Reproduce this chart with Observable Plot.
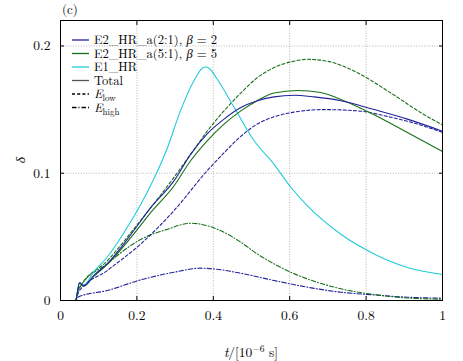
<!DOCTYPE html>
<html>
<head>
<meta charset="utf-8">
<script src="https://cdn.jsdelivr.net/npm/d3@7"></script>
<script src="https://cdn.jsdelivr.net/npm/@observablehq/plot@0.6"></script>
<style>
  html, body { margin: 0; padding: 0; background: #fff; }
  #chart { width: 463px; height: 361px; }
</style>
</head>
<body>
<div id="chart"></div>
<script>
// ---- data ----
const xTicks = [0, 0.2, 0.4, 0.6, 0.8, 1];
const yTicks = [0, 0.1, 0.2];

// E1_HR total
const tE1 = [0, 0.039, 0.05, 0.061, 0.087, 0.122, 0.175, 0.227, 0.28, 0.314, 0.349, 0.371, 0.38, 0.389, 0.41, 0.454, 0.507, 0.559, 0.603, 0.646, 0.734, 0.821, 0.908, 1];
const dE1 = [0, 0, 0.014, 0.012, 0.0225, 0.034, 0.0575, 0.085, 0.12, 0.149, 0.1725, 0.1825, 0.1835, 0.1825, 0.174, 0.152, 0.1255, 0.107, 0.089, 0.0745, 0.052, 0.0366, 0.026, 0.0204];

// E2_HR_a(2:1) total
const tE2aTot = [0, 0.039, 0.05, 0.061, 0.087, 0.122, 0.192, 0.236, 0.297, 0.341, 0.384, 0.428, 0.472, 0.515, 0.559, 0.611, 0.664, 0.734, 0.821, 0.908, 1];
const dE2aTot = [0, 0, 0.014, 0.0115, 0.0196, 0.0288, 0.055, 0.073, 0.094, 0.115, 0.131, 0.1425, 0.1516, 0.157, 0.16, 0.1613, 0.16, 0.157, 0.150, 0.1425, 0.133];

// E2_HR_a(5:1) total
const tE2bTot = [0, 0.039, 0.05, 0.061, 0.087, 0.122, 0.192, 0.236, 0.297, 0.341, 0.384, 0.428, 0.472, 0.515, 0.559, 0.62, 0.681, 0.734, 0.821, 0.908, 1];
const dE2bTot = [0, 0, 0.014, 0.0112, 0.019, 0.0282, 0.0523, 0.069, 0.090, 0.11, 0.1255, 0.1386, 0.149, 0.157, 0.163, 0.165, 0.1634, 0.158, 0.146, 0.132, 0.117];

// E2_HR_a(2:1) E_low
const tE2aLow = [0, 0.039, 0.048, 0.122, 0.21, 0.297, 0.384, 0.428, 0.472, 0.515, 0.559, 0.611, 0.69, 0.777, 0.865, 0.952, 1];
const dE2aLow = [0, 0, 0.007, 0.0235, 0.0444, 0.0706, 0.102, 0.116, 0.129, 0.1386, 0.1443, 0.148, 0.150, 0.149, 0.144, 0.137, 0.132];

// E2_HR_a(5:1) E_low
const tE2bLow = [0, 0.039, 0.048, 0.122, 0.21, 0.297, 0.341, 0.384, 0.428, 0.472, 0.515, 0.559, 0.611, 0.646, 0.699, 0.777, 0.865, 0.952, 1];
const dE2bLow = [0, 0, 0.009, 0.031, 0.063, 0.0967, 0.115, 0.133, 0.149, 0.163, 0.175, 0.183, 0.188, 0.1895, 0.188, 0.179, 0.163, 0.146, 0.138];

// E2_HR_a(2:1) E_high
const tE2aHigh = [0, 0.039, 0.048, 0.122, 0.21, 0.297, 0.367, 0.402, 0.472, 0.559, 0.646, 0.734, 0.821, 0.908, 1];
const dE2aHigh = [0, 0, 0.003, 0.0078, 0.0162, 0.0222, 0.0254, 0.0248, 0.0214, 0.0157, 0.0105, 0.0065, 0.0044, 0.0026, 0.0018];

// E2_HR_a(5:1) E_high
const tE2bHigh = [0, 0.039, 0.048, 0.122, 0.21, 0.28, 0.341, 0.384, 0.428, 0.472, 0.515, 0.559, 0.603, 0.646, 0.734, 0.821, 0.908, 1];
const dE2bHigh = [0, 0, 0.009, 0.0288, 0.048, 0.056, 0.0607, 0.0588, 0.0536, 0.0458, 0.0366, 0.0288, 0.0222, 0.017, 0.0092, 0.0047, 0.002, 0.001];

const legendLabels = ["E2_HR_a(2:1), β = 2", "E2_HR_a(5:1), β = 5", "E1_HR", "Total", "E_low", "E_high"];

// ---- styles ----
const BLUE = "#22229a";
const GREEN = "#18701a";
const CYAN = "#22cbd8";
const GRAY = "#555555";
const DASH = "3,2.2";
const DASHDOT = "4.5,2,1,2";

function series(t, d, name) { return t.map((v, i) => ({t: v, d: d[i], name})); }

const lines = [
  {data: series(tE2aHigh, dE2aHigh, "aHigh"), stroke: BLUE, dash: DASHDOT},
  {data: series(tE2bHigh, dE2bHigh, "bHigh"), stroke: GREEN, dash: DASHDOT},
  {data: series(tE2aLow, dE2aLow, "aLow"), stroke: BLUE, dash: DASH},
  {data: series(tE2bLow, dE2bLow, "bLow"), stroke: GREEN, dash: DASH},
  {data: series(tE1, dE1, "E1"), stroke: CYAN, dash: null},
  {data: series(tE2bTot, dE2bTot, "bTot"), stroke: GREEN, dash: null},
  {data: series(tE2aTot, dE2aTot, "aTot"), stroke: BLUE, dash: null},
];

const FONT = "Latin Modern Roman, Liberation Serif, serif";
const FS = 13.5;
const LFS = 12.6;

const plot = Plot.plot({
  width: 463,
  height: 361,
  marginLeft: 60,
  marginRight: 21,
  marginTop: 20,
  marginBottom: 61,
  style: {fontFamily: FONT, fontSize: FS + "px", color: "black", background: "white", overflow: "visible"},
  x: {domain: [0, 1]},
  y: {domain: [0, 0.22]},
  marks: [
    Plot.gridX(xTicks, {stroke: "#999", strokeOpacity: 1, strokeDasharray: "1,1.6", strokeWidth: 0.7}),
    Plot.gridY(yTicks, {stroke: "#999", strokeOpacity: 1, strokeDasharray: "1,1.6", strokeWidth: 0.7}),
    ...lines.map(l => Plot.line(l.data, {x: "t", y: "d", stroke: l.stroke, strokeWidth: 1.1, strokeDasharray: l.dash, curve: "monotone-x"})),
    Plot.axisX(xTicks, {tickSize: 0, tickPadding: 10, tickFormat: d => String(d), label: null, fontSize: FS}),
    Plot.axisY(yTicks, {tickSize: 0, tickPadding: 10, tickFormat: d => String(d), label: null, fontSize: FS}),
    Plot.axisX(xTicks, {anchor: "bottom", tickSize: 4, dy: -4, tickFormat: () => "", label: null}),
    Plot.axisX(xTicks, {anchor: "top", tickSize: 4, dy: 4, tickFormat: () => "", label: null}),
    Plot.axisY(yTicks, {anchor: "left", tickSize: 4, dx: 4, tickFormat: () => "", label: null}),
    Plot.axisY(yTicks, {anchor: "right", tickSize: 4, dx: -4, tickFormat: () => "", label: null}),
    Plot.frame({stroke: "black", strokeWidth: 1})
  ]
});
document.getElementById("chart").appendChild(plot);

// ---- annotations: panel letter, axis labels, legend ----
const svg = d3.select(plot);
const xs = plot.scale("x"), ys = plot.scale("y");
const x0 = xs.range[0], x1 = xs.range[1];
const yTop = ys.range[1], yBot = ys.range[0];

svg.append("text").attr("x", 62).attr("y", 14).attr("text-anchor", "start")
  .attr("font-family", FONT).attr("font-size", 13).attr("fill", "black").text("(c)");

// x label
const xl = svg.append("text").attr("x", (x0 + x1) / 2).attr("y", 357).attr("text-anchor", "middle")
  .attr("font-family", FONT).attr("font-size", FS).attr("fill", "black");
xl.append("tspan").attr("font-style", "italic").text("t");
xl.append("tspan").text("/[10");
xl.append("tspan").attr("font-size", 9.5).attr("dy", -5).text("−6");
xl.append("tspan").attr("dy", 5).text(" s]");

// y label
svg.append("text").attr("transform", `translate(25,${(yTop + yBot) / 2}) rotate(-90)`)
  .attr("text-anchor", "middle").attr("font-family", FONT).attr("font-size", FS)
  .attr("font-style", "italic").attr("fill", "black").text("δ");

// legend
const legendItems = [
  {stroke: BLUE, dash: null},
  {stroke: GREEN, dash: null},
  {stroke: CYAN, dash: null},
  {stroke: GRAY, dash: null},
  {stroke: "black", dash: DASH},
  {stroke: "black", dash: DASHDOT},
];
const lg = svg.append("g").attr("font-family", FONT).attr("font-size", LFS).attr("fill", "black").attr("text-anchor", "start");
legendItems.forEach((it, i) => {
  const y = 40 + i * 13.5;
  lg.append("line").attr("x1", 72).attr("x2", 89).attr("y1", y).attr("y2", y)
    .attr("stroke", it.stroke).attr("stroke-width", 1.3).attr("stroke-dasharray", it.dash);
  const t = lg.append("text").attr("x", 94).attr("y", y + 4.3).attr("text-anchor", "start");
  const lab = legendLabels[i];
  if (lab.startsWith("E_")) {
    t.append("tspan").attr("font-style", "italic").text("E");
    t.append("tspan").attr("font-size", 9).attr("dy", 3).text(lab.slice(2));
  } else if (lab.includes("β")) {
    const parts = lab.split("β");
    t.append("tspan").text(parts[0]);
    t.append("tspan").attr("font-style", "italic").text("β");
    t.append("tspan").text(parts[1]);
  } else {
    t.text(lab);
  }
});
</script>
</body>
</html>
